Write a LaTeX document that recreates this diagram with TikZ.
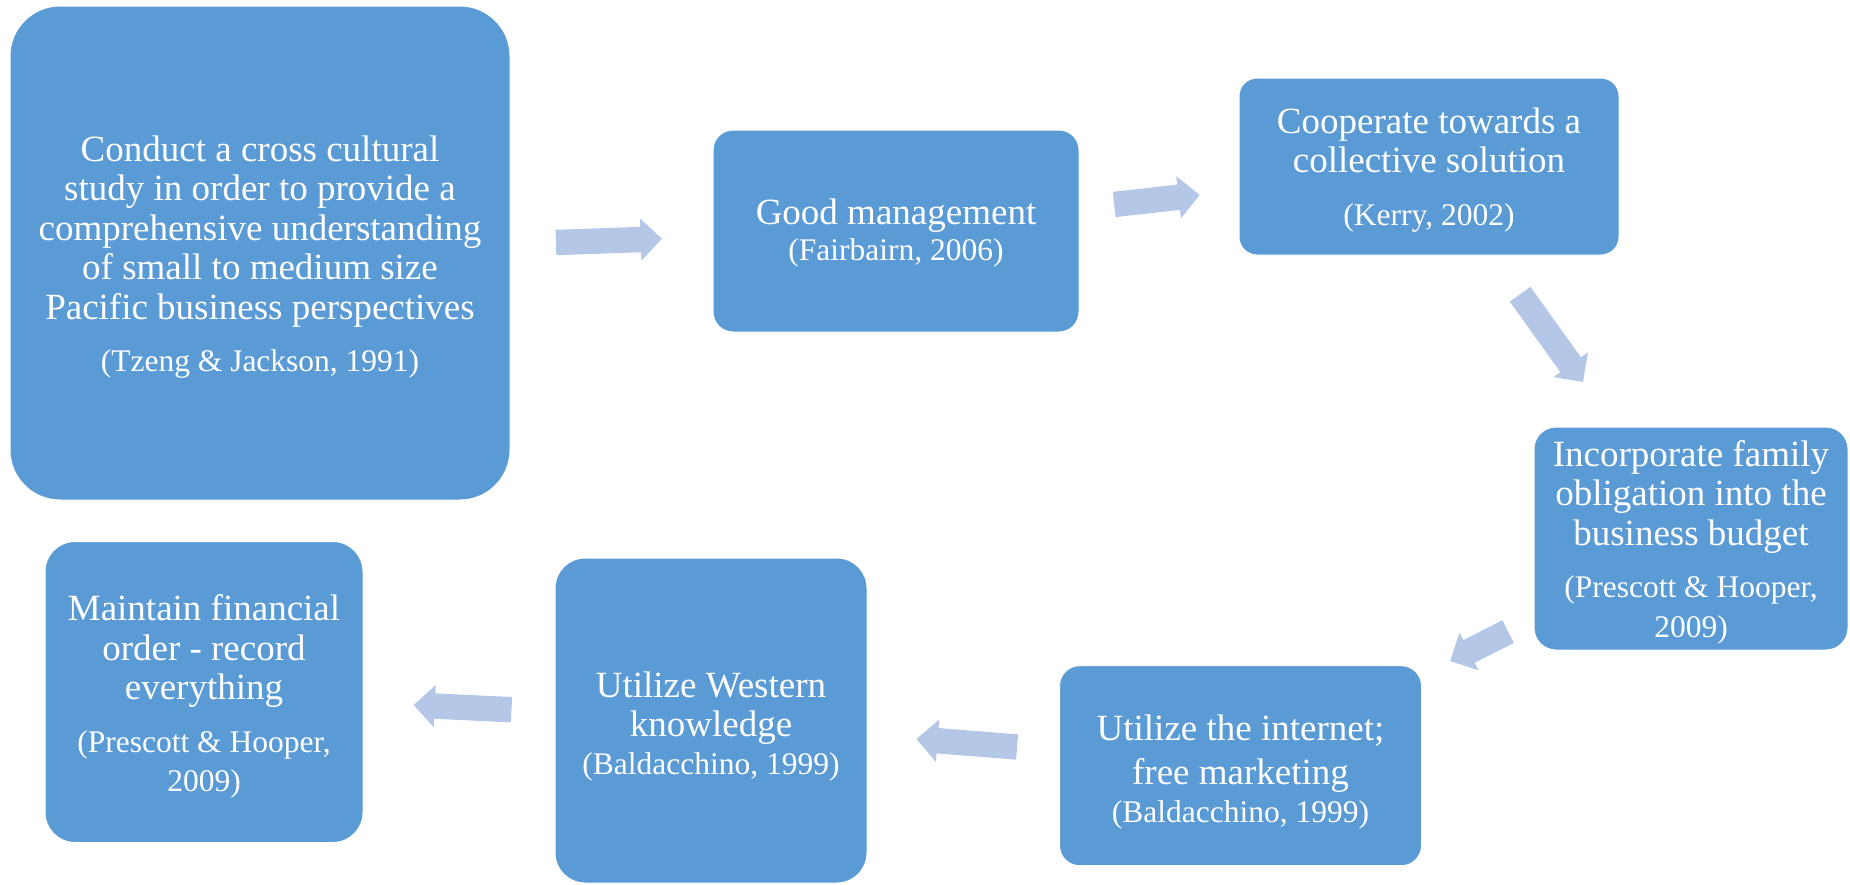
\documentclass[tikz,border=0pt]{standalone}
\usepackage{fontspec}
\setmainfont{Liberation Serif}
\newfontfamily\timesface{Liberation Serif}
\usetikzlibrary{shapes.arrows}
\definecolor{boxblue}{HTML}{5B9BD5}
\definecolor{arrblue}{HTML}{B4C7E7}
\newcommand\mtxt{\timesface\fontsize{37}{39.5}\selectfont}
\newcommand\ctxt{\timesface\fontsize{31.5}{35}\selectfont}
\tikzset{
  stagebox/.style={draw=white, line width=1pt, fill=boxblue, inner sep=0pt},
  stagetext/.style={text=white, align=center, inner sep=0pt, font=\mtxt},
  blockarrow/.style={single arrow, fill=arrblue, draw=none, inner sep=0pt, anchor=tail,
    text height=25pt, text depth=0pt, text width=0pt,
    minimum width=42pt, single arrow head extend=8.5pt, single arrow tip angle=90},
}
\begin{document}
\begin{tikzpicture}[x=1pt,y=-1pt]
\useasboundingbox (0,0) rectangle (1850,884);
% boxes
\node[stagebox, rounded corners=50pt, minimum width=500pt, minimum height=494pt] (b1) at (260,253) {};
\node[stagebox, rounded corners=20pt, minimum width=366pt, minimum height=202pt] (b2) at (896,231) {};
\node[stagebox, rounded corners=18pt, minimum width=380pt, minimum height=177pt] (b3) at (1429,166.5) {};
\node[stagebox, rounded corners=22pt, minimum width=314pt, minimum height=223pt] (b4) at (1691,538.5) {};
\node[stagebox, rounded corners=20pt, minimum width=362pt, minimum height=200pt] (b5) at (1240.5,765.7) {};
\node[stagebox, rounded corners=30pt, minimum width=312pt, minimum height=325pt] (b6) at (711,720.5) {};
\node[stagebox, rounded corners=30pt, minimum width=318pt, minimum height=301pt] (b7) at (204,692) {};
% texts
\node[stagetext] (t1) at ([yshift=-4pt]b1.center)
  {\mtxt Conduct a cross cultural\\\mtxt study in order to provide a\\\mtxt comprehensive understanding\\\mtxt of small to medium size\\\mtxt Pacific business perspectives\\[13pt]\ctxt (Tzeng \& Jackson, 1991)};
\node[stagetext] (t2) at ([yshift=-2pt]b2.center)
  {\mtxt Good management\\[-4pt]\ctxt (Fairbairn, 2006)};
\node[stagetext] (t3) at ([yshift=-3.5pt]b3.center)
  {\mtxt Cooperate towards a\\\mtxt collective solution\\[13pt]\ctxt (Kerry, 2002)};
\node[stagetext] (t4) at ([yshift=-3.5pt]b4.center)
  {\mtxt Incorporate family\\\mtxt obligation into the\\\mtxt business budget\\[13pt]\ctxt (Prescott \& Hooper,\\\ctxt 2009)};
\node[stagetext] (t5) at ([yshift=-6.5pt]b5.center)
  {\mtxt Utilize the internet;\\[4pt]\mtxt free marketing\\[-1pt]\ctxt (Baldacchino, 1999)};
\node[stagetext] (t6) at ([yshift=-6pt]b6.center)
  {\mtxt Utilize Western\\\mtxt knowledge\\[-2pt]\ctxt (Baldacchino, 1999)};
\node[stagetext] (t7) at ([yshift=-4.5pt]b7.center)
  {\mtxt Maintain financial\\\mtxt order - record\\\mtxt everything\\[13pt]\ctxt (Prescott \& Hooper,\\\ctxt 2009)};
% block arrows
\node[blockarrow, minimum height=106pt, rotate=2] (a1) at (555.7,242.5) {};
\node[blockarrow, minimum height=86pt, rotate=6.4] (a2) at (1114,204.5) {};
\node[blockarrow, minimum height=108pt, rotate=-54.4] (a3) at (1520,294) {};
\node[blockarrow, minimum height=65pt, rotate=206.9] (a4) at (1508.3,631.5) {};
\node[blockarrow, minimum height=101pt, rotate=175.5] (a5) at (1017.3,747) {};
\node[blockarrow, minimum height=98pt, rotate=177.3] (a6) at (511.7,709.7) {};
\end{tikzpicture}
\end{document}
